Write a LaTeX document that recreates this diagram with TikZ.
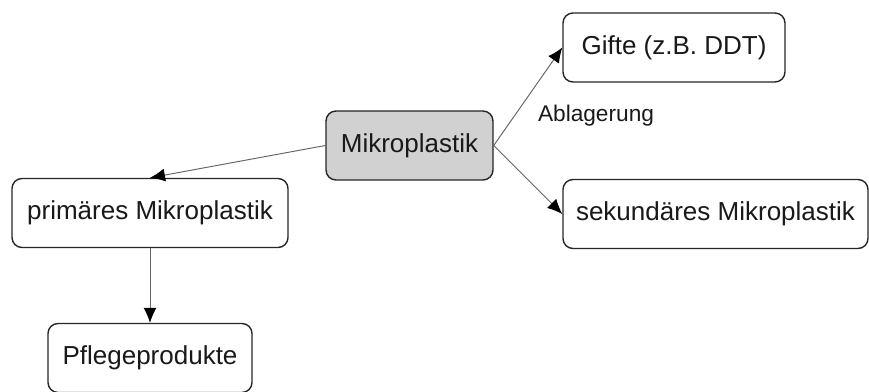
\documentclass[tikz,border=0pt]{standalone}
\usepackage{fontspec}
\setmainfont{Liberation Sans}
\usetikzlibrary{arrows.meta}

\begin{document}
\begin{tikzpicture}[
        concept/.style={draw=black!85, line width=0.8pt, rounded corners=0.2cm, fill=white,
            minimum height=1.38cm, inner sep=0pt, text=black!90,
            font=\fontsize{14.8}{17}\selectfont},
        link/.style={draw=black!60, line width=0.55pt,
            -{Latex[length=0.3cm,width=0.26cm,color=black]}},
        linklabel/.style={text=black!90, font=\fontsize{12.9}{15}\selectfont}
    ]
        \useasboundingbox (0,0) rectangle (17.38,7.82);

        \node[concept, minimum width=3.34cm, fill=black!18] (mikro) at (8.19,4.91) {Mikroplastik};
        \node[concept, minimum width=4.44cm] (gifte) at (13.48,6.87) {Gifte (z.B. DDT)};
        \node[concept, minimum width=5.52cm] (prim) at (3.0,3.56) {primäres Mikroplastik};
        \node[concept, minimum width=6.10cm] (sek) at (14.31,3.54) {sekundäres Mikroplastik};
        \node[concept, minimum width=4.08cm] (pflege) at (3.0,0.66) {Pflegeprodukte};

        \node[linklabel] (ablagerung) at (11.92,5.5) {Ablagerung};

        \draw[link] (mikro.west) -- (prim.north);
        \draw[link] (mikro.east) -- (gifte.west);
        \draw[link] (mikro.east) -- (sek.west);
        \draw[link] (prim.south) -- (pflege.north);
    \end{tikzpicture}
\end{document}
